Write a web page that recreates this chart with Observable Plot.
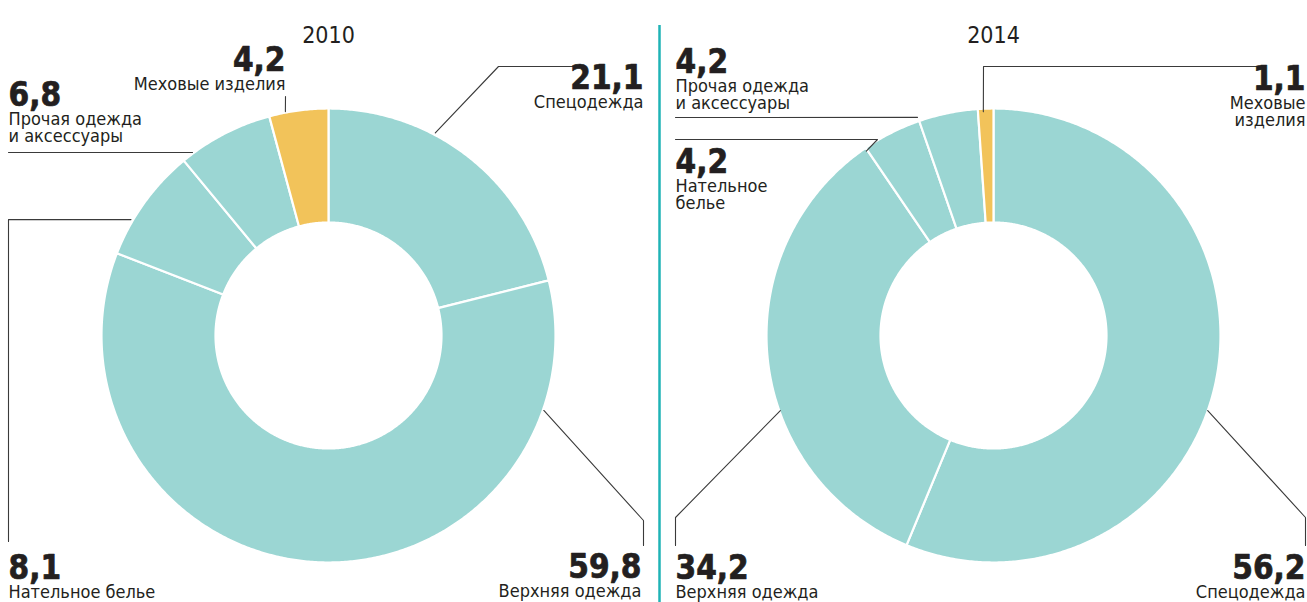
<!DOCTYPE html>
<html><head><meta charset="utf-8">
<script src="https://cdn.jsdelivr.net/npm/d3@7"></script>
<script src="https://cdn.jsdelivr.net/npm/@observablehq/plot@0.6"></script>
<style>
html,body{margin:0;padding:0;background:#fff;}
#chart svg{display:block;}
</style></head><body><div id="chart"></div>
<script>
// ---- data ----
const categories = ["Спецодежда", "Верхняя одежда", "Нательное белье", "Прочая одежда и аксессуары", "Меховые изделия"];
const years = ["2010", "2014"];
const values2010 = [21.1, 59.8, 8.1, 6.8, 4.2];
const values2014 = [56.2, 34.2, 4.2, 4.2, 1.1];
const labels2010 = ["Спецодежда", "Верхняя одежда", "Нательное белье", "Прочая одежда\nи аксессуары", "Меховые изделия"];
const labels2014 = ["Спецодежда", "Верхняя одежда", "Нательное\nбелье", "Прочая одежда\nи аксессуары", "Меховые\nизделия"];
const highlight = "Меховые изделия";

// ---- style / layout ----
const W = 1307, H = 602;
const TEAL = "#9bd6d3", YELLOW = "#f2c35a", INK = "#231f20", LEAD = "#3a3a3a";
const FONT = "'DejaVu Sans Condensed', 'Liberation Sans Narrow', 'DejaVu Sans', sans-serif";
const R_OUT = 227, R_IN = 113;
// per-chart layout: centre, year label, and for each category: number anchor + leader bends + ring angle
const layout = [
  {cx: 328, cy: 335, yearY: 42, items: [
    {x: 643, y: 88, a: "end", bends: [[580, 66], [498, 66]], ang: 27.8, r: 229},
    {x: 641, y: 577, a: "end", bends: [[643, 545], [643, 520]], ang: 109.2, r: 228},
    {x: 8, y: 578, a: "start", bends: [[8, 541], [8, 219]], ang: 300.4, r: 229},
    {x: 8, y: 105, a: "start", bends: [[8, 152]], ang: 323.4, r: 228},
    {x: 285, y: 70, a: "end", bends: [[285, 96]], ang: 349.1, r: 228}
  ]},
  {cx: 993, cy: 335, yearY: 42, items: [
    {x: 1305, y: 578, a: "end", bends: [[1305, 545], [1305, 517]], ang: 109.3, r: 227},
    {x: 675, y: 578, a: "start", bends: [[675, 545], [675, 517]], ang: 250.6, r: 226},
    {x: 675, y: 172, a: "start", bends: [[675, 139], [877, 139]], ang: 325.4, r: 224},
    {x: 675, y: 72, a: "start", bends: [[675, 117]], ang: 340.8, r: 231},
    {x: 1305, y: 89, a: "end", bends: [[1262, 66], [983, 66]], ang: 357.4, r: 224}
  ]}
];
const charts = [
  {year: years[0], values: values2010, labels: labels2010, L: layout[0]},
  {year: years[1], values: values2014, labels: labels2014, L: layout[1]}
];

const fmt = v => d3.format(".1f")(v).replace(".", ",");
const onRing = (cx, cy, r, rad) => [cx + r * Math.sin(rad), cy - r * Math.cos(rad)];

const slicePts = [];
const leaderPts = [];
const numbers = [];
const labels = [];
const yearLabels = [];
charts.forEach(ch => {
  const {cx, cy} = ch.L;
  yearLabels.push({x: cx, y: ch.L.yearY, t: ch.year});
  const arcs = d3.pie().sort(null).value(d => d)(ch.values);
  arcs.forEach((a, i) => {
    const id = ch.year + "-" + i;
    const color = categories[i] === highlight ? YELLOW : TEAL;
    const n = Math.max(2, Math.ceil((a.endAngle - a.startAngle) / 0.008));
    for (let k = 0; k <= n; k++) {
      const t = a.startAngle + (a.endAngle - a.startAngle) * k / n;
      const [x, y] = onRing(cx, cy, R_OUT, t);
      slicePts.push({id, x, y, color});
    }
    for (let k = n; k >= 0; k--) {
      const t = a.startAngle + (a.endAngle - a.startAngle) * k / n;
      const [x, y] = onRing(cx, cy, R_IN, t);
      slicePts.push({id, x, y, color});
    }
    const it = ch.L.items[i];
    it.bends.forEach(([x, y]) => leaderPts.push({id, x, y}));
    const [lx, ly] = onRing(cx, cy, it.r, it.ang * Math.PI / 180);
    leaderPts.push({id, x: lx, y: ly});
    numbers.push({x: it.x, y: it.y, a: it.a, t: fmt(ch.values[i])});
    const lines = ch.labels[i].split("\n").length;
    labels.push({x: it.x, y: it.y + 19 + (lines - 1) * 17, a: it.a, t: ch.labels[i]});
  });
});

const textOpts = () => ({x: "x", y: "y", text: "t", fill: INK, fontFamily: FONT, lineAnchor: "bottom"});
const numOpts = () => ({...textOpts(), fontSize: 33, fontWeight: "bold", stroke: INK, strokeWidth: 0.7});

const plot = Plot.plot({
  width: W, height: H,
  margin: 0,
  x: {type: "identity", axis: null},
  y: {type: "identity", axis: null},
  color: {type: "identity"},
  style: {fontFamily: FONT, background: "#fff"},
  marks: [
    Plot.line(slicePts, {x: "x", y: "y", z: "id", fill: "color", stroke: "#fff", strokeWidth: 2.2, curve: "linear-closed"}),
    Plot.line(leaderPts, {x: "x", y: "y", z: "id", stroke: LEAD, strokeWidth: 1.1}),
    Plot.ruleX([659], {y1: 25, y2: H, stroke: "#1fb3b6", strokeWidth: 2.5}),
    Plot.text(yearLabels, {x: "x", y: "y", text: "t", fill: INK, fontFamily: FONT, fontSize: 23, lineAnchor: "bottom", textAnchor: "middle"}),
    Plot.text(numbers.filter(d => d.a === "end"), {...numOpts(), textAnchor: "end"}),
    Plot.text(numbers.filter(d => d.a === "start"), {...numOpts(), textAnchor: "start"}),
    Plot.text(labels.filter(d => d.a === "end"), {...textOpts(), fontSize: 18, lineHeight: 17 / 18, textAnchor: "end"}),
    Plot.text(labels.filter(d => d.a === "start"), {...textOpts(), fontSize: 18, lineHeight: 17 / 18, textAnchor: "start"})
  ]
});
document.getElementById("chart").append(plot);
</script></body></html>
